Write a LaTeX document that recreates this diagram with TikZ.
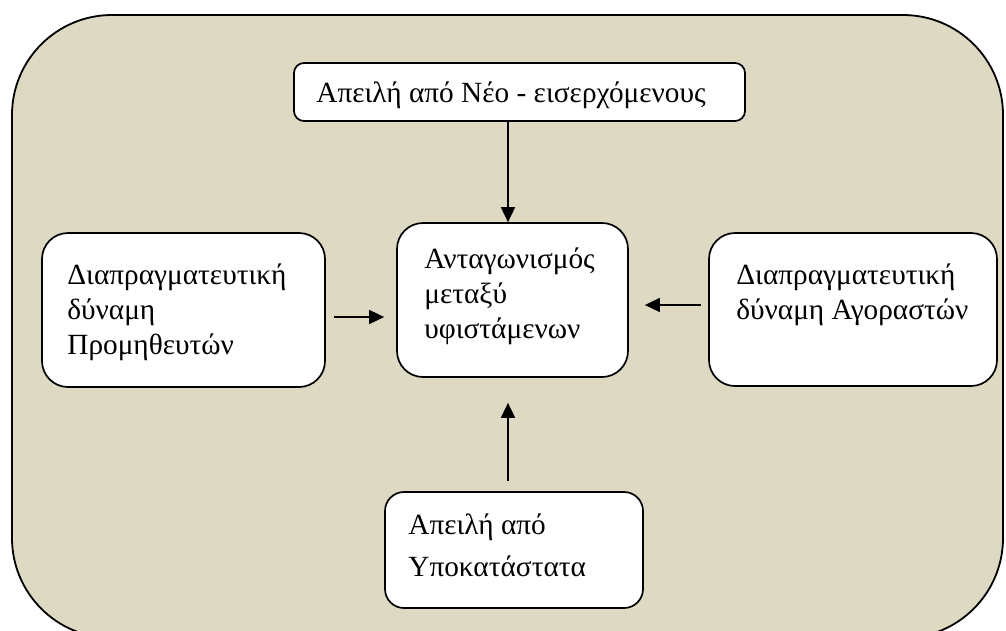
\documentclass[tikz,border=0pt]{standalone}
\usepackage{fontspec}
\setmainfont{Liberation Serif}
\usetikzlibrary{arrows.meta}
\definecolor{bgtan}{HTML}{DDD9C3}

\begin{document}
\begin{tikzpicture}[x=1pt,y=-1pt,
    force/.style={draw,line width=1.7pt,fill=white,rounded corners=#1,inner sep=0pt},
    force/.default=26pt,
    txt/.style={anchor=north west,inner sep=0pt,align=left,font=\fontsize{29.3}{35}\selectfont},
    arr/.style={line width=1.7pt,-{Triangle[length=15pt,width=14pt]}}]
    \useasboundingbox (0,0) rectangle (1006,630);
    \draw[line width=1.8pt,fill=bgtan,rounded corners=100pt] (12,15) rectangle (1003,638); % outer frame

    % the five forces
    \node[force=10pt,minimum width=451pt,minimum height=58pt] (entrants) at (519.5,92) {};
    \node[force,minimum width=283pt,minimum height=154pt] (suppliers) at (183.5,310) {};
    \node[force,minimum width=231pt,minimum height=154pt] (rivalry) at (512.5,300) {};
    \node[force,minimum width=288pt,minimum height=153pt] (buyers) at (853,309.5) {};
    \node[force=19pt,minimum width=258pt,minimum height=116pt] (substitutes) at (514,550) {};

    % texts, top left in each box
    \node[txt,anchor=base west] (entrantstxt) at ([shift={(23pt,-40pt)}]entrants.north west) {Απειλή από Νέο - εισερχόμενους};
    \node[txt] (supplierstxt) at ([shift={(26pt,-31pt)}]suppliers.north west) {Διαπραγματευτική\\δύναμη\\Προμηθευτών};
    \node[txt] (rivalrytxt) at ([shift={(28pt,-25pt)}]rivalry.north west) {Ανταγωνισμός\\μεταξύ\\υφιστάμενων};
    \node[txt] (buyerstxt) at ([shift={(28pt,-31pt)}]buyers.north west) {Διαπραγματευτική\\δύναμη Αγοραστών};
    \node[txt,font=\fontsize{29.3}{42}\selectfont] (substitutestxt) at ([shift={(24pt,-22pt)}]substitutes.north west) {Απειλή από\\Υποκατάστατα};

    % arrows into the middle
    \draw[arr] ([xshift=-11.5pt]entrants.south) -- ([xshift=-11.5pt]entrants.south |- rivalry.north);
    \draw[arr] ([xshift=8pt,yshift=-7pt]suppliers.east) -- ([xshift=-12pt,yshift=-7pt]suppliers.east -| rivalry.west);
    \draw[arr] ([xshift=-7pt,yshift=4.5pt]buyers.west) -- ([xshift=16pt,yshift=4.5pt]buyers.west -| rivalry.east);
    \draw[arr] ([xshift=-6pt,yshift=10pt]substitutes.north) -- ([xshift=-6pt,yshift=-25pt]substitutes.north |- rivalry.south);
\end{tikzpicture}
\end{document}
